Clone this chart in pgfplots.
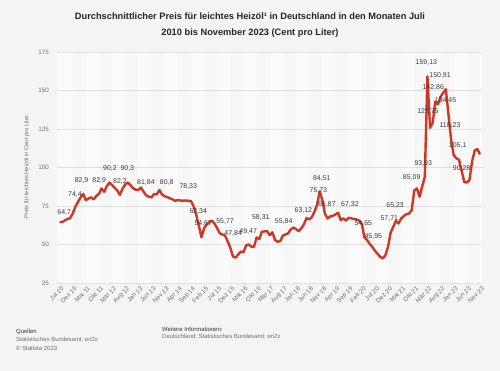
\documentclass[border=0pt]{standalone}
\usepackage{fontspec}
\setmainfont{Liberation Sans}
\usepackage{pgfplots}
\usepackage{pgfplotstable}
\pgfplotsset{compat=1.18}
\definecolor{bgcol}{RGB}{244,244,244}
\definecolor{plotbg}{RGB}{251,251,251}
\definecolor{gridcol}{RGB}{224,224,224}
\definecolor{linecol}{RGB}{205,55,35}
\definecolor{ticktext}{RGB}{110,110,110}
\definecolor{labtext}{RGB}{60,60,60}

\pgfplotstableread{
i v
0 64.7
1 64.5
2 65.6
3 66.6
4 67.0
5 70.0
6 74.4
7 77.5
8 80.5
9 82.9
10 78.8
11 79.8
12 80.6
13 79.3
14 81.5
15 82.9
16 86.4
17 84.2
18 87.9
19 90.2
20 88.6
21 86.8
22 85.0
23 82.2
24 86.4
25 89.0
26 90.3
27 88.6
28 86.5
29 85.6
30 85.4
31 87.0
32 84.2
33 81.84
34 81.0
35 80.6
36 82.8
37 82.5
38 85.4
39 82.5
40 81.3
41 80.8
42 80.0
43 79.3
44 78.4
45 78.8
46 78.6
47 78.4
48 78.6
49 78.33
50 78.2
51 75.0
52 69.5
53 62.34
54 54.67
55 60.5
56 63.0
57 64.5
58 65.5
59 63.5
60 60.5
61 57.3
62 56.5
63 55.77
64 52.0
65 47.84
66 42.2
67 41.5
68 43.5
69 45.4
70 45.0
71 49.47
72 50.0
73 48.6
74 48.5
75 54.6
76 53.5
77 58.31
78 58.5
79 58.7
80 56.1
81 57.9
82 53.0
83 51.8
84 52.2
85 55.84
86 56.5
87 57.3
88 59.8
89 61.0
90 60.0
91 58.7
92 60.5
93 63.12
94 67.2
95 66.3
96 67.7
97 71.3
98 75.73
99 84.51
100 78.8
101 70.0
102 66.87
103 68.2
104 68.6
105 69.5
106 70.6
107 65.9
108 67.0
109 65.5
110 67.32
111 67.0
112 66.6
113 66.3
114 65.5
115 63.5
116 54.65
117 53.0
118 50.5
119 48.5
120 45.95
121 44.0
122 42.0
123 41.0
124 43.0
125 48.5
126 57.71
127 61.5
128 65.23
129 63.7
130 66.9
131 68.5
132 69.7
133 70.1
134 72.3
135 85.09
136 86.4
137 81.0
138 87.7
139 93.93
140 159.13
141 125.75
142 129.0
143 142.86
144 141.0
145 146.0
146 148.5
147 150.91
148 134.45
149 118.23
150 108.0
151 106.0
152 105.1
153 98.0
154 90.5
155 90.28
156 92.0
157 104.0
158 111.0
159 112.0
160 108.5
}\pricedata

\pgfplotstableread{
x y lab
1.8 71 64,7
5.9 82.5 74,4
8.4 91.8 82,9
15.1 91.8 82,9
19.2 99.4 90,2
23 91.1 82,2
25.8 99.4 90,3
32.9 90.5 81,84
40.8 90 80,8
49 87.5 78,33
52.8 71.5 62,34
54.7 63.9 54,67
63 65 55,77
66.1 57.2 47,84
71.8 58.7 49,47
76.6 67.6 58,31
85.3 65.1 55,84
92.8 72.3 63,12
98.5 84.9 75,73
99.8 92.9 84,51
101.7 76.2 66,87
110.5 76.2 67,32
115.6 63.7 54,65
119.4 55 45,95
125.5 67 57,71
127.7 75 65,23
134 93.5 85,09
138.4 102.6 93,93
139.6 167.9 159,13
140.2 136.1 125,75
142.2 151.9 142,86
144.8 159.9 150,91
146.9 143.7 134,45
148.6 127.5 118,23
151.5 114 105,1
153 99.4 90,28
}\labdata

\begin{document}
\begin{tikzpicture}
\fill[bgcol] (0bp,0bp) rectangle (500bp,371bp);
\begin{axis}[
  at={(57.4bp,88bp)}, anchor=south west,
  scale only axis, width=424.7bp, height=231bp,
  xmin=-0.8, xmax=160.8, ymin=25, ymax=175,
  axis background/.style={fill=plotbg},
  axis line style={draw=none},
  tick style={draw=none},
  ymajorgrids, major grid style={draw=gridcol, line width=0.6bp},
  xtick={0,5,...,160},
  xticklabels={Jul 10,Dez 10,Mai 11,Okt 11,Mär 12,Aug 12,Jan 13,Jun 13,Nov 13,Apr 14,Sep 14,Feb 15,Jul 15,Dez 15,Mai 16,Okt 16,Mär 17,Aug 17,Jan 18,Jun 18,Nov 18,Apr 19,Sep 19,Feb 20,Jul 20,Dez 20,Mai 21,Okt 21,Mär 22,Aug 22,Jan 23,Jun 23,Nov 23},
  xticklabel style={rotate=45, anchor=north east, font=\fontsize{6.3}{7}\selectfont, text=ticktext, inner sep=1bp, yshift=-2bp},
  ytick={25,50,...,175},
  yticklabel style={font=\fontsize{6.3}{7}\selectfont, text=ticktext, xshift=-5bp},
  /pgf/number format/assume math mode=true,
  /pgf/number format/1000 sep={},
  clip=false,
]
\pgfplotsinvokeforeach{0,...,15}{
  \fill[black, opacity=0.014] (axis cs:{10*#1+5},25) rectangle (axis cs:{10*#1+10},175);
}
\addplot[linecol, line width=2.4bp, line join=round, mark=none] table[x=i, y=v] {\pricedata};
\addplot[draw=none, mark=none, nodes near coords, point meta=explicit symbolic,
  every node near coord/.style={anchor=center, font=\fontsize{7}{8}\selectfont, text=labtext, inner sep=0pt}]
  table[x=x, y=y, meta=lab] {\labdata};
\end{axis}
\node[rotate=90, font=\fontsize{5.8}{7}\selectfont, text=ticktext] at (27bp,204bp) {Preis für leichtes Heizöl in Cent pro Liter};
\node[font=\fontsize{9.3}{11}\selectfont\bfseries, text=black!85] at (250bp,355bp) {Durchschnittlicher Preis für leichtes Heizöl¹ in Deutschland in den Monaten Juli};
\node[font=\fontsize{9.3}{11}\selectfont\bfseries, text=black!85] at (250bp,338bp) {2010 bis November 2023 (Cent pro Liter)};
\node[anchor=west, font=\fontsize{6}{7}\selectfont, text=black!80, inner sep=0pt] at (16bp,39bp) {Quellen};
\node[anchor=west, font=\fontsize{6}{7}\selectfont, text=ticktext, inner sep=0pt] at (16bp,31bp) {Statistisches Bundesamt; en2x};
\node[anchor=west, font=\fontsize{6}{7}\selectfont, text=ticktext, inner sep=0pt] at (16bp,23bp) {© Statista 2023};
\node[anchor=west, font=\fontsize{6}{7}\selectfont, text=black!80, inner sep=0pt] at (162bp,42bp) {Weitere Informationen:};
\node[anchor=west, font=\fontsize{6}{7}\selectfont, text=ticktext, inner sep=0pt] at (162bp,34bp) {Deutschland; Statistisches Bundesamt; en2x};
\end{tikzpicture}
\end{document}
